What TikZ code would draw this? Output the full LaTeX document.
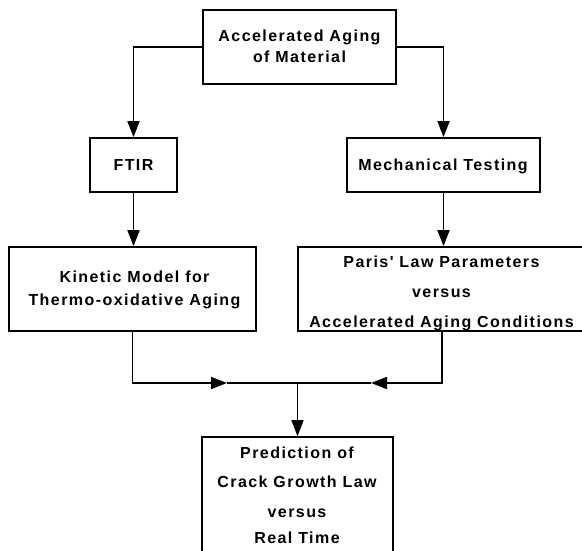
\documentclass[tikz,border=0pt]{standalone}
\usepackage{fontspec}
\newfontfamily\lab{Liberation Sans}[LetterSpace=9]
\usetikzlibrary{arrows.meta}
\begin{document}
\begin{tikzpicture}[x=1pt,y=-1pt,
  box/.style={draw, line width=1.7pt, inner sep=0pt},
  txt/.style={anchor=base, inner sep=0pt, font=\lab\bfseries\fontsize{16}{19}\selectfont},
  conn/.style={line width=1.7pt},
  arr/.style={line width=1.7pt, -{Triangle[length=16pt,width=12pt]}}]
\useasboundingbox (0,0) rectangle (582,551);
\fill[white] (0,0) rectangle (582,551);
\clip (0,0) rectangle (582,551);
% boxes
\node[box, minimum width=193pt, minimum height=74pt] (top) at (299.5,47) {};
\node[box, minimum width=87pt, minimum height=54pt] (ftir) at (133.5,165) {};
\node[box, minimum width=193pt, minimum height=54pt] (mech) at (443.5,165) {};
\node[box, minimum width=247pt, minimum height=84pt] (kin) at (132.5,289) {};
\node[box, minimum width=288pt, minimum height=84pt] (paris) at (442,289) {};
\node[box, minimum width=191pt, minimum height=120pt] (pred) at (297.5,497) {};
% texts
\node[txt] (t1) at (299.5,42) {Accelerated Aging};
\node[txt] (t2) at (299.5,63) {of Material};
\node[txt] (f1) at (133.5,170.5) {FTIR};
\node[txt] (m1) at (443,170.5) {Mechanical Testing};
\node[txt] (k1) at (134.5,282) {Kinetic Model for};
\node[txt] (k2) at (134.5,305) {Thermo-oxidative Aging};
\node[txt] (p1) at (441.5,267) {Paris' Law Parameters};
\node[txt] (p2) at (441.5,297) {versus};
\node[txt] (p3) at (441.5,327) {Accelerated Aging Conditions};
\node[txt] (r1) at (297,458) {Prediction of};
\node[txt] (r2) at (297,487) {Crack Growth Law};
\node[txt] (r3) at (297,517) {versus};
\node[txt] (r4) at (297,543) {Real Time};
% connectors
\coordinate (j) at (297.5,383);
\coordinate (la) at (227,383);
\coordinate (ra) at (371,383);
\draw[arr] (top.west) -| (ftir.north);
\draw[arr] (top.east) -| (mech.north);
\draw[arr] (ftir.south) -- (ftir.south |- kin.north);
\draw[arr] (mech.south) -- (mech.south |- paris.north);
\draw[arr] (kin.south) |- (la);
\draw[conn] (la) -- (j);
\draw[arr] (paris.south) |- (ra);
\draw[conn] (ra) -- (j);
\draw[arr] (j) -- (pred.north);
\end{tikzpicture}
\end{document}
